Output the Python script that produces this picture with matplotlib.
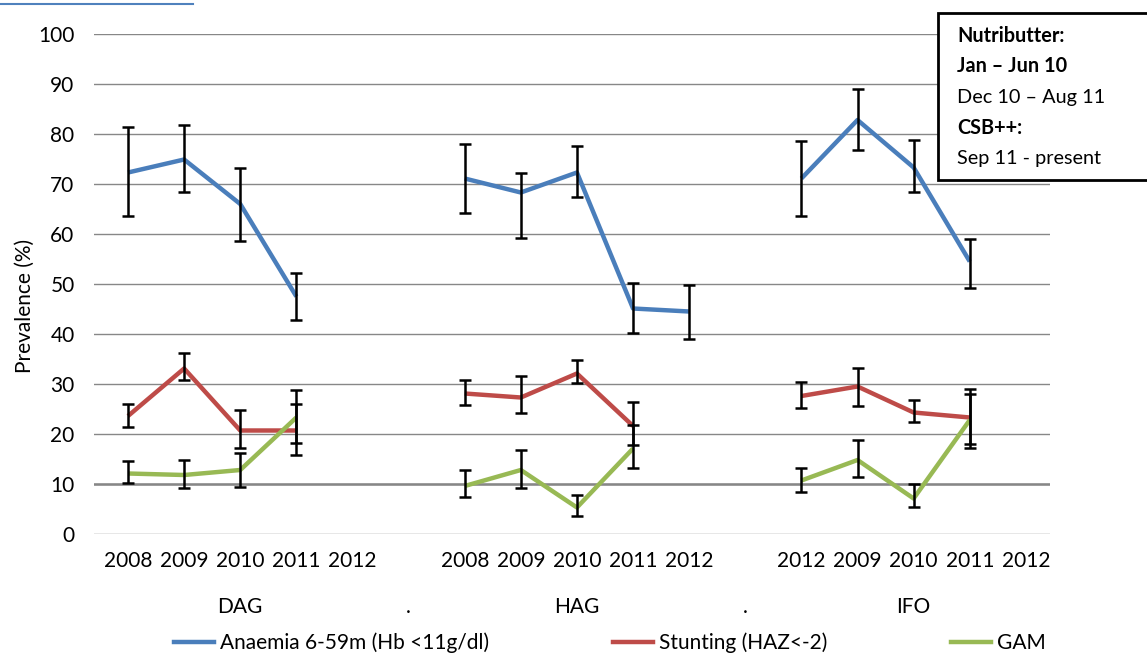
import numpy as np
import matplotlib
matplotlib.use("Agg")
import matplotlib.pyplot as plt
from matplotlib.lines import Line2D
from matplotlib.transforms import blended_transform_factory

plt.rcParams['font.family'] = ['Lato', 'DejaVu Sans']

# Sites and survey rounds
sites = ["DAG", "HAG", "IFO"]
separators = [".", "."]
years_dag = ["2008", "2009", "2010", "2011", "2012"]
years_hag = ["2008", "2009", "2010", "2011", "2012"]
years_ifo = ["2012", "2009", "2010", "2011", "2012"]

nan = np.nan
# Prevalence (%) per site, with lower/upper confidence limits
anaemia_dag = [72.3, 74.9, 66.0, 47.5, nan]
anaemia_hag = [71.1, 68.3, 72.3, 45.1, 44.5]
anaemia_ifo = [71.1, 82.8, 73.3, 54.5, nan]
anaemia_lo_dag = [63.6, 68.3, 58.6, 42.9, nan]
anaemia_hi_dag = [81.3, 81.8, 73.1, 52.1, nan]
anaemia_lo_hag = [64.1, 59.1, 67.3, 40.3, 39.0]
anaemia_hi_hag = [78.0, 72.1, 77.5, 50.1, 49.8]
anaemia_lo_ifo = [63.6, 76.8, 68.3, 49.3, nan]
anaemia_hi_ifo = [78.6, 88.9, 78.8, 59.0, nan]

stunting_dag = [23.6, 33.1, 20.7, 20.7, nan]
stunting_hag = [28.1, 27.3, 32.1, 21.6, nan]
stunting_ifo = [27.6, 29.5, 24.3, 23.3, nan]
stunting_lo_dag = [21.5, 30.9, 17.3, 15.8, nan]
stunting_hi_dag = [26.1, 36.3, 24.8, 26.1, nan]
stunting_lo_hag = [25.8, 24.3, 30.3, 17.8, nan]
stunting_hi_hag = [30.9, 31.6, 34.8, 26.5, nan]
stunting_lo_ifo = [25.3, 25.7, 22.5, 18.1, nan]
stunting_hi_ifo = [30.5, 33.3, 26.8, 28.1, nan]

gam_dag = [12.1, 11.8, 12.8, 23.3, nan]
gam_hag = [9.6, 12.8, 5.3, 17.1, nan]
gam_ifo = [10.7, 14.8, 7.1, 22.8, nan]
gam_lo_dag = [10.3, 9.3, 9.5, 18.3, nan]
gam_hi_dag = [14.7, 14.9, 16.3, 28.8, nan]
gam_lo_hag = [7.5, 9.3, 3.6, 13.3, nan]
gam_hi_hag = [12.8, 16.9, 7.8, 21.9, nan]
gam_lo_ifo = [8.4, 11.5, 5.5, 17.3, nan]
gam_hi_ifo = [13.3, 18.8, 10.0, 29.1, nan]


def join(dag, hag, ifo):
    """Lay the three sites out on one category axis with a blank slot between."""
    return np.array(list(dag) + [nan] + list(hag) + [nan] + list(ifo), dtype=float)


tick_labels = years_dag + [""] + years_hag + [""] + years_ifo
x = np.arange(len(tick_labels))

series = [
    ("Anaemia 6-59m (Hb <11g/dl)", "#4a7ebb",
     join(anaemia_dag, anaemia_hag, anaemia_ifo),
     join(anaemia_lo_dag, anaemia_lo_hag, anaemia_lo_ifo),
     join(anaemia_hi_dag, anaemia_hi_hag, anaemia_hi_ifo)),
    ("Stunting (HAZ<-2)", "#be4b48",
     join(stunting_dag, stunting_hag, stunting_ifo),
     join(stunting_lo_dag, stunting_lo_hag, stunting_lo_ifo),
     join(stunting_hi_dag, stunting_hi_hag, stunting_hi_ifo)),
    ("GAM", "#98b954",
     join(gam_dag, gam_hag, gam_ifo),
     join(gam_lo_dag, gam_lo_hag, gam_lo_ifo),
     join(gam_hi_dag, gam_hi_hag, gam_hi_ifo)),
]

W, H = 1147, 655
fig = plt.figure(figsize=(W / 100, H / 100), dpi=100)
ax = fig.add_axes([94 / W, (H - 534) / H, 956 / W, 500 / H])

handles = []
for name, color, vals, lo, hi in series:
    ax.plot(x, vals, color=color, lw=3.2, solid_capstyle="butt", zorder=3)
    ok = ~np.isnan(vals)
    ax.errorbar(x[ok], vals[ok], yerr=[vals[ok] - lo[ok], hi[ok] - vals[ok]],
                fmt="none", ecolor="black", elinewidth=1.8, capsize=4.5,
                capthick=1.8, zorder=4)
    handles.append(Line2D([0], [0], color=color, lw=3.2))

ax.set_ylim(0, 100)
ax.set_yticks(np.arange(0, 101, 10))
ax.set_xlim(-0.606, 16.43)
ax.set_xticks(x)
ax.set_xticklabels(tick_labels)
ax.tick_params(axis="both", length=0, labelsize=15, colors="black")
ax.tick_params(axis="y", pad=14)
ax.tick_params(axis="x", pad=12)
for s in ax.spines.values():
    s.set_visible(False)
ax.grid(axis="y", color="#878787", lw=1.0)
ax.axhline(10, color="#878787", lw=1.8, zorder=1)
ax.set_axisbelow(True)

# Site labels below the years
group_labels = [sites[0], separators[0], sites[1], separators[1], sites[2]]
group_pos = [2, 5, 8, 11, 14]
grp_tr = blended_transform_factory(ax.transData, fig.transFigure)
for lab, pos in zip(group_labels, group_pos):
    ax.text(pos, 1 - 607 / H, lab, transform=grp_tr,
            ha="center", va="center", fontsize=15)

fig.text(25 / W, 1 - 306 / H, "Prevalence (%)", rotation=90,
         ha="center", va="center", fontsize=15)

fig.legend(handles, [s[0] for s in series], loc="center", ncol=3,
           mode="expand", frameon=False, fontsize=15, handlelength=1.9,
           handletextpad=0.3, borderpad=0.2, borderaxespad=0,
           bbox_to_anchor=(170 / W, 1 - 660 / H, 880 / W, 34 / H))

# Supplement programme note
box = plt.Rectangle((938 / W, 1 - 180 / H), 210 / W, 167 / H,
                    transform=fig.transFigure, fill=True, facecolor="white",
                    edgecolor="black", lw=2, zorder=10)
fig.add_artist(box)
note = [("Nutributter:", "bold"), ("Jan \u2013 Jun 10", "bold"),
        ("Dec 10 \u2013 Aug 11", "normal"), ("CSB++:", "bold"),
        ("Sep 11 - present", "normal")]
for i, (txt, wt) in enumerate(note):
    fig.text(957 / W, 1 - (36 + 30.5 * i) / H, txt, ha="left", va="center",
             fontsize=14.3, fontweight=wt, zorder=11)

# Link underline fragment at the top edge
fig.add_artist(Line2D([0, 193 / W], [1 - 4 / H, 1 - 4 / H], color="#4f81bd",
                      lw=1.5, transform=fig.transFigure))

fig.savefig("out.png", dpi=100)
